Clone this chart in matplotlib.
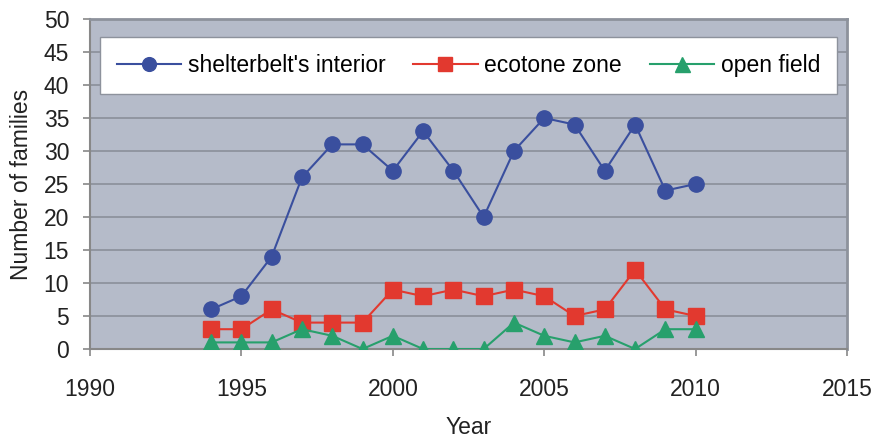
import matplotlib
matplotlib.use("Agg")
import matplotlib.pyplot as plt

plt.rcParams['font.family'] = ['Liberation Sans', 'DejaVu Sans']

years = [1994, 1995, 1996, 1997, 1998, 1999, 2000, 2001, 2002, 2003,
         2004, 2005, 2006, 2007, 2008, 2009, 2010]
interior = [6, 8, 14, 26, 31, 31, 27, 33, 27, 20, 30, 35, 34, 27, 34, 24, 25]
ecotone = [3, 3, 6, 4, 4, 4, 9, 8, 9, 8, 9, 8, 5, 6, 12, 6, 5]
open_field = [1, 1, 1, 3, 2, 0, 2, 0, 0, 0, 4, 2, 1, 2, 0, 3, 3]

fig = plt.figure(figsize=(8.76, 4.41), dpi=100)
ax = fig.add_axes([0.1027, 0.2086, 0.8643, 0.7484])
ax.set_facecolor('#b5bbc9')

ax.plot(years, interior, color='#3a4f9e', marker='o', markersize=11,
        linewidth=1.5, label="shelterbelt's interior", zorder=3)
ax.plot(years, ecotone, color='#e2392f', marker='s', markersize=11,
        linewidth=1.5, label='ecotone zone', zorder=3)
ax.plot(years, open_field, color='#27a06c', marker='^', markersize=12,
        linewidth=1.5, label='open field', zorder=3)

ax.set_xlim(1990, 2015)
ax.set_ylim(0, 50)
ax.set_xticks(range(1990, 2016, 5))
ax.set_yticks(range(0, 51, 5))
ax.yaxis.grid(True, color='#8a8f99', linewidth=1.2)
ax.set_axisbelow(True)

for side in ['top', 'right']:
    ax.spines[side].set_color('#8d929c')
    ax.spines[side].set_linewidth(2)
ax.spines['left'].set_color('#888888')
ax.spines['bottom'].set_color('#888888')
ax.spines['left'].set_linewidth(1.5)
ax.spines['bottom'].set_linewidth(1.5)

ax.tick_params(axis='both', labelsize=16.5, color='#888888', length=5,
               width=1.2, labelcolor='#222222')
ax.tick_params(axis='x', pad=16)
ax.tick_params(axis='y', pad=10)
ax.set_xlabel('Year', fontsize=16.5, color='#222222', labelpad=11)
ax.set_ylabel('Number of families', fontsize=16.5, color='#222222', labelpad=8)

leg = ax.legend(loc='upper center', ncol=3, fontsize=16.5, frameon=True,
                fancybox=False, edgecolor='#8d929c', facecolor='white',
                framealpha=1, borderpad=0.75, handlelength=2.8,
                columnspacing=1.8, handletextpad=0.3, borderaxespad=0,
                markerscale=0.9, mode='expand',
                bbox_to_anchor=(0.013, 0.76, 0.974, 0.185))

fig.savefig('out.png', dpi=100)
